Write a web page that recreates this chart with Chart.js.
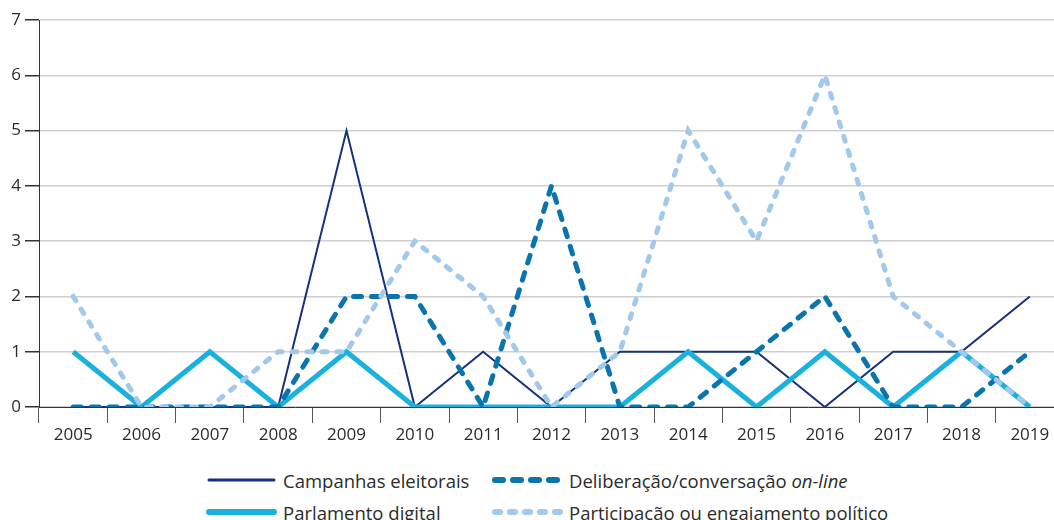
<!DOCTYPE html>
<html>
<head>
<meta charset="utf-8">
<script src="https://cdn.jsdelivr.net/npm/chart.js@4/dist/chart.umd.min.js"></script>
<style>
  html, body { margin: 0; padding: 0; background: #fff; overflow: hidden; width: 1054px; height: 520px; }
  #wrap { position: relative; width: 1094px; height: 455px; }
  #legend {
    position: absolute; left: 0; top: 465px; width: 1054px;
    font-family: "Open Sans", sans-serif; font-size: 18.5px; color: #2b2b2b;
  }
  .item { position: absolute; display: flex; align-items: center; white-space: nowrap; height: 30px; }
  .item svg { flex-shrink: 0; margin-right: 6px; }
</style>
</head>
<body>
<div id="wrap"><canvas id="chart"></canvas></div>
<div id="legend"></div>
<script>
const years = ['2005', '2006', '2007', '2008', '2009', '2010', '2011', '2012', '2013', '2014', '2015', '2016', '2017', '2018', '2019'];
const campanhas = [0, 0, 0, 0, 5, 0, 1, 0, 1, 1, 1, 0, 1, 1, 2];
const deliberacao = [0, 0, 0, 0, 2, 2, 0, 4, 0, 0, 1, 2, 0, 0, 1];
const parlamento = [1, 0, 1, 0, 1, 0, 0, 0, 0, 1, 0, 1, 0, 1, 0];
const participacao = [2, 0, 0, 1, 1, 3, 2, 0, 1, 5, 3, 6, 2, 1, 0];
const yTicks = [0, 1, 2, 3, 4, 5, 6, 7];

const textColor = '#2b2b2b';
const font = { family: '"Open Sans", sans-serif', size: 17 };

const datasets = [
  { label: 'Campanhas eleitorais', data: campanhas, borderColor: '#16307a', borderWidth: 2, order: 4 },
  { label: 'Deliberação/conversação on-line', data: deliberacao, borderColor: '#0b74ad', borderWidth: 5,
    borderDash: [8, 10], borderCapStyle: 'round', order: 2 },
  { label: 'Parlamento digital', data: parlamento, borderColor: '#1bb1de', borderWidth: 5, order: 3 },
  { label: 'Participação ou engajamento político', data: participacao, borderColor: '#a2c8eb', borderWidth: 5,
    borderDash: [5, 10], borderCapStyle: 'round', order: 1 }
];
datasets.forEach(d => { d.pointRadius = 0; d.tension = 0; d.fill = false; });

const chart = new Chart(document.getElementById('chart'), {
  type: 'line',
  data: { labels: years, datasets: datasets },
  options: {
    responsive: true,
    maintainAspectRatio: false,
    animation: false,
    layout: { padding: { top: 20, right: 30, left: 0, bottom: 0 } },
    plugins: { legend: { display: false }, tooltip: { enabled: false } },
    scales: {
      x: {
        offset: true,
        grid: { offset: true, drawOnChartArea: false, drawTicks: true, tickLength: 16, color: '#555', lineWidth: 1 },
        border: { display: true, color: '#333', width: 1 },
        ticks: { color: textColor, font: font, padding: 2, maxRotation: 0 },
        afterFit: s => { s.height = 48; }
      },
      y: {
        min: 0, max: 7,
        afterBuildTicks: s => { s.ticks = yTicks.map(v => ({ value: v })); },
        grid: { color: '#cfcfcf', lineWidth: 1.5, tickLength: 14, tickColor: '#333' },
        border: { display: true, color: '#333', width: 1 },
        ticks: { color: textColor, font: font, padding: 4 },
        afterFit: s => { s.width = 39; }
      }
    }
  }
});

// legend in two columns, built from the datasets
const legend = document.getElementById('legend');
const pos = [[206, 0], [492, 0], [206, 32], [492, 32]];
chart.data.datasets.forEach((d, i) => {
  const el = document.createElement('div');
  el.className = 'item';
  el.style.left = pos[i][0] + 'px';
  el.style.top = pos[i][1] + 'px';
  const round = d.borderCapStyle === 'round';
  const dash = d.borderDash ? `stroke-dasharray="${d.borderDash.join(' ')}"` : '';
  el.innerHTML = `<svg width="71" height="10"><line x1="3" y1="5" x2="68" y2="5" stroke="${d.borderColor}" stroke-width="${d.borderWidth === 2 ? 3 : 6}" stroke-linecap="round" ${dash}/></svg>`;
  const span = document.createElement('span');
  if (d.label.endsWith('on-line')) {
    span.innerHTML = 'Deliberação/conversação <i>on-line</i>';
  } else {
    span.textContent = d.label;
  }
  el.appendChild(span);
  legend.appendChild(el);
});
</script>
</body>
</html>
